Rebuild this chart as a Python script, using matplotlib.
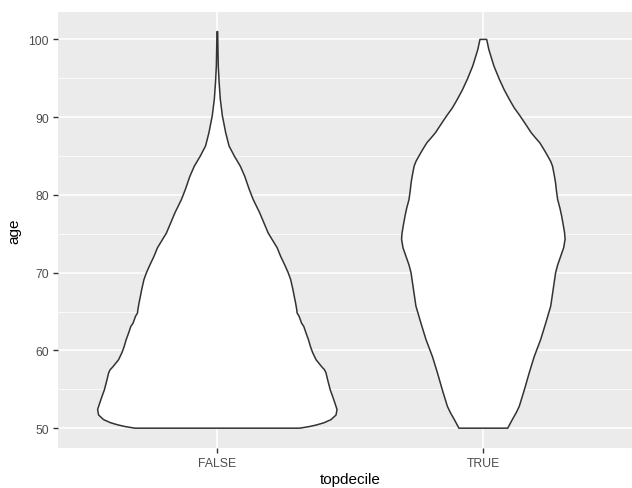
import numpy as np
import matplotlib
matplotlib.use("Agg")
import matplotlib.pyplot as plt

plt.rcParams['font.family'] = ['Liberation Sans', 'DejaVu Sans']

# groups on the x axis
categories = ["FALSE", "TRUE"]

# density outline (scaled so that the widest point = 1)
age_false = [50.0, 50.2, 50.4, 50.7, 51.1, 51.7, 52.4, 53.2, 54.1, 54.9,
             56.2, 57.1, 57.5, 57.9, 58.8, 59.7, 60.5, 61.4, 62.2, 63.1,
             63.5, 64.4, 64.8, 65.3, 66.1, 67.0, 67.8, 69.1, 70.0, 71.0,
             72.1, 73.2, 75.1, 77.7, 79.4, 80.7, 82.4, 83.7, 85.0, 86.3,
             88.0, 90.2, 92.3, 94.5, 96.6, 99.0, 101.0]
dens_false = [0.688, 0.767, 0.825, 0.892, 0.950, 0.992, 1.000, 0.983, 0.963, 0.944,
              0.922, 0.908, 0.896, 0.872, 0.825, 0.797, 0.778, 0.761, 0.742, 0.722,
              0.704, 0.683, 0.667, 0.663, 0.654, 0.642, 0.632, 0.613, 0.592, 0.563,
              0.529, 0.500, 0.425, 0.354, 0.300, 0.267, 0.229, 0.192, 0.142, 0.098,
              0.070, 0.042, 0.025, 0.015, 0.008, 0.005, 0.003]

age_true = [50.0, 50.5, 51.1, 52.0, 52.8, 54.9, 57.1, 59.2, 61.4, 63.5,
            65.7, 67.8, 70.0, 71.0, 72.1, 73.2, 74.3, 75.1, 76.2, 77.3,
            78.3, 79.4, 80.5, 81.6, 82.6, 83.7, 84.3, 85.0, 85.8, 86.7,
            87.3, 88.0, 89.1, 90.2, 91.2, 92.3, 93.5, 94.9, 96.6, 98.7,
            100.0]
dens_true = [0.204, 0.221, 0.242, 0.275, 0.300, 0.342, 0.383, 0.425, 0.479, 0.521,
             0.563, 0.583, 0.604, 0.621, 0.646, 0.671, 0.683, 0.679, 0.667, 0.654,
             0.640, 0.621, 0.611, 0.603, 0.592, 0.578, 0.563, 0.538, 0.508, 0.472,
             0.438, 0.400, 0.353, 0.305, 0.258, 0.217, 0.175, 0.133, 0.088, 0.046,
             0.028]

y_ticks = [50, 60, 70, 80, 90, 100]

fig = plt.figure(figsize=(6.32, 4.89), dpi=100)
ax = fig.add_axes([0.0913, 0.0818, 0.926, 0.892])
ax.set_facecolor('#EBEBEB')

groups = [(age_false, dens_false), (age_true, dens_true)]
for i, (ages, dens) in enumerate(groups):
    pos = i + 1
    ages = np.array(ages)
    half = 0.45 * np.array(dens)
    xs = np.concatenate([pos - half, (pos + half)[::-1]])
    ys = np.concatenate([ages, ages[::-1]])
    ax.fill(xs, ys, facecolor='white', edgecolor='#333333', linewidth=1.1,
            joinstyle='round', zorder=3, closed=True)

ax.set_xlim(0.4, 2.6)
ax.set_ylim(47.45, 103.55)
ax.set_xticks([1, 2])
ax.set_xticklabels(categories)
ax.set_yticks(y_ticks)
ax.set_yticks([55, 65, 75, 85, 95], minor=True)

ax.grid(True, which='major', color='white', linewidth=1.1, zorder=0)
ax.grid(True, which='minor', axis='y', color='white', linewidth=0.55, zorder=0)
ax.set_axisbelow(True)
for s in ax.spines.values():
    s.set_visible(False)

ax.tick_params(axis='both', which='major', length=3.8, width=1.0, color='#333333',
               labelsize=8.8, labelcolor='#4D4D4D', pad=2.5)
ax.tick_params(axis='both', which='minor', length=0)

ax.set_xlabel('topdecile', fontsize=11, color='black', labelpad=2)
ax.set_ylabel('age', fontsize=11, color='black', labelpad=5)

fig.savefig('out.png', dpi=100)
